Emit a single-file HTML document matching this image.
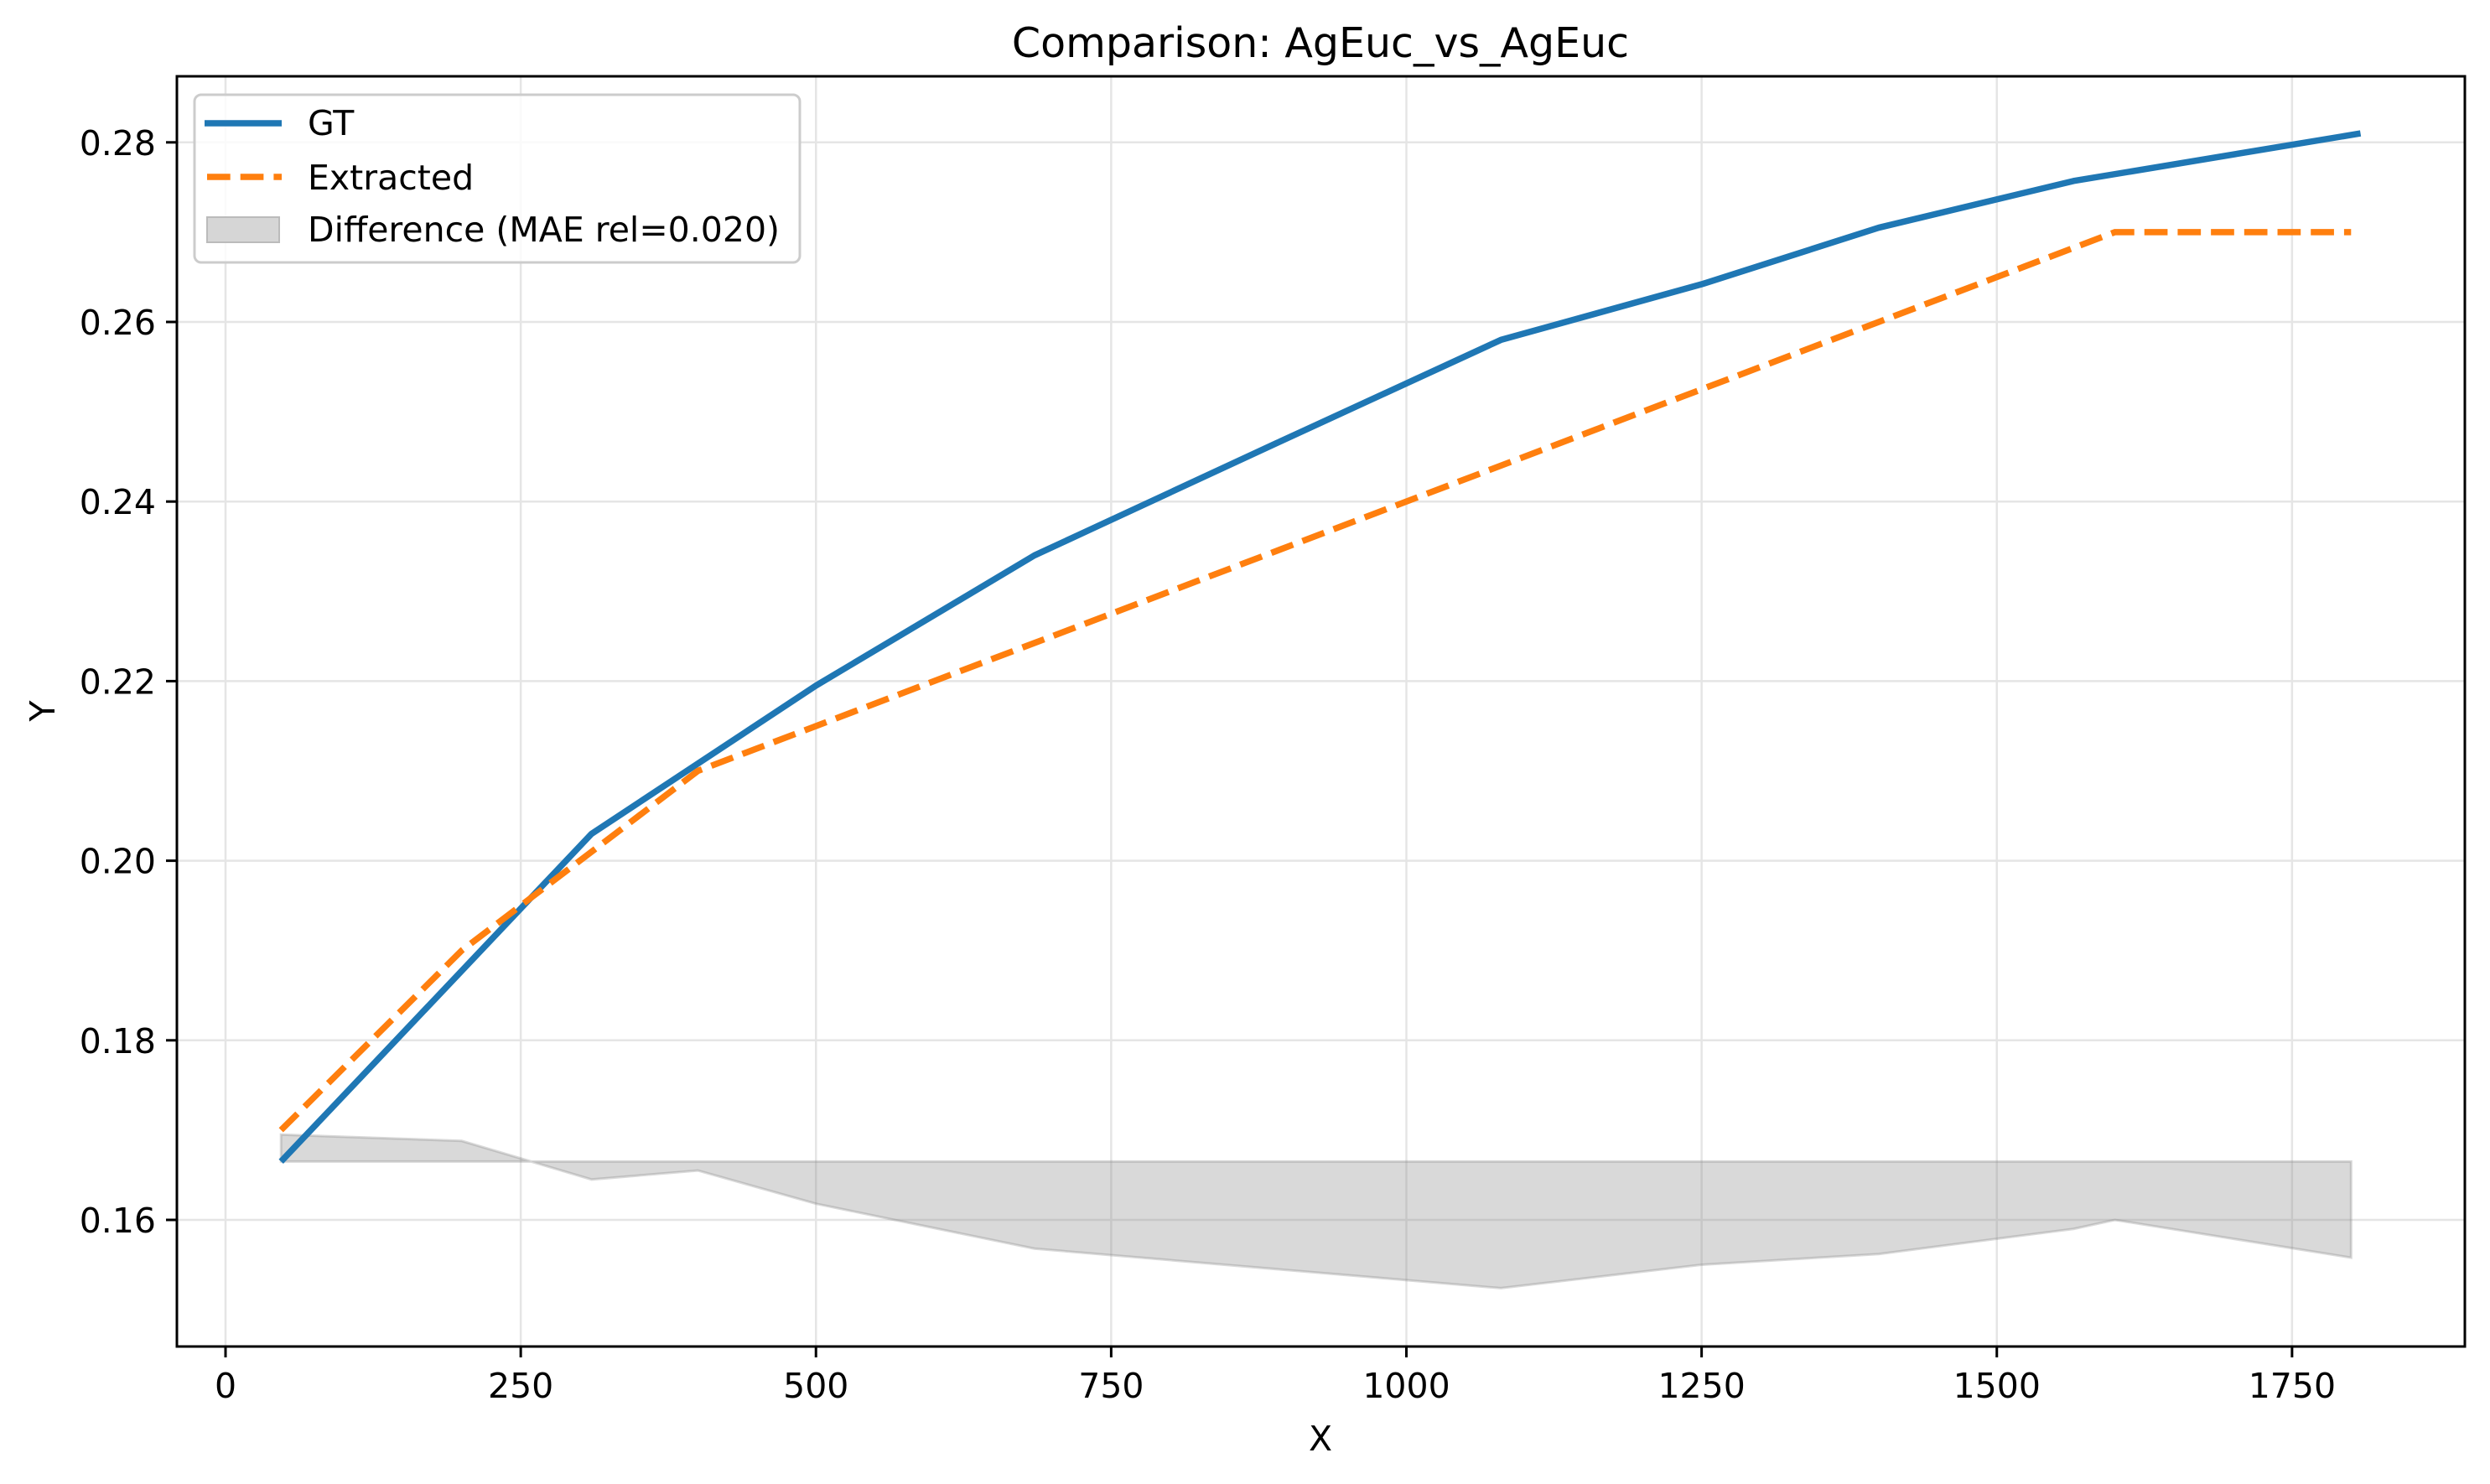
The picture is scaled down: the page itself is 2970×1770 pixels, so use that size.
<!DOCTYPE html>
<html><head><meta charset="utf-8"><style>
body{margin:0;background:#fff}
text{font-family:"DejaVu Sans","Liberation Sans",sans-serif;fill:#000}
</style></head><body>
<svg id="chart" width="2970" height="1765" viewBox="0 0 2970 1765" xmlns="http://www.w3.org/2000/svg">
<rect width="2970" height="1765" fill="#fff"/>
<g id="grid"></g>
<g id="marks"></g>
<rect x="211" y="91" width="2729" height="1515" fill="none" stroke="#000" stroke-width="3"/>
<g id="ticks"></g>
<text x="1575" y="68" font-size="49" text-anchor="middle">Comparison: AgEuc_vs_AgEuc</text>
<text x="1575" y="1730" font-size="41" text-anchor="middle">X</text>
<text x="0" y="0" font-size="41" text-anchor="middle" transform="translate(65,848) rotate(-90)">Y</text>
<g>
<rect x="232" y="113" width="722" height="200" rx="8" fill="#fff" fill-opacity="0.8" stroke="#ccc" stroke-width="3"/>
<line x1="244" y1="147" x2="336" y2="147" stroke="#1f77b4" stroke-width="7.5"/>
<text x="367" y="161" font-size="41">GT</text>
<line x1="247" y1="211" x2="336" y2="211" stroke="#ff7f0e" stroke-width="7.5" stroke-dasharray="27.7,12"/>
<text x="367" y="226" font-size="41">Extracted</text>
<rect x="247" y="259" width="86" height="30" fill="#d6d6d6" stroke="#bbb" stroke-width="2"/>
<text x="367" y="288" font-size="41">Difference (MAE rel=0.020)</text>
</g>
</svg>
<script>
const gtX=[47,310,500,685,890,1080,1250,1400,1565,1808];
const gtY=[0.1665,0.203,0.2195,0.234,0.2465,0.258,0.2642,0.2705,0.2757,0.281];
const exX=[47,200,400,500,690,1080,1250,1400,1600,1800];
const exY=[0.170,0.190,0.210,0.215,0.2245,0.244,0.2525,0.260,0.270,0.270];
const diffX=[47,200,310,400,500,685,1080,1250,1400,1565,1600,1800];
const diffY=[0.1695,0.1688,0.1645,0.1655,0.1618,0.1568,0.1524,0.155,0.1562,0.159,0.160,0.1558];
const diffBase=0.1665;
const xTicks=[0,250,500,750,1000,1250,1500,1750];
const yTicks=[0.16,0.18,0.20,0.22,0.24,0.26,0.28];
const yTickLabels=["0.16","0.18","0.20","0.22","0.24","0.26","0.28"];
const X=v=>269+(v)*1.4085;
const Y=v=>1455-(v-0.16)/0.02*214.2;
const NS="http://www.w3.org/2000/svg";
function mk(tag,attrs,parent){const e=document.createElementNS(NS,tag);for(const k in attrs)e.setAttribute(k,attrs[k]);parent.appendChild(e);return e;}
const grid=document.getElementById('grid'),ticks=document.getElementById('ticks'),marks=document.getElementById('marks');
xTicks.forEach(t=>{
 const g=mk('line',{x1:X(t),x2:X(t),y1:91,y2:1606,stroke:'#e5e5e5','stroke-width':2.5},grid);
 
 
 const tk=mk('line',{x1:X(t),x2:X(t),y1:1606,y2:1619,stroke:'#000','stroke-width':3},ticks);
 
 
 const tl=mk('text',{x:X(t),y:1667,'font-size':41,'text-anchor':'middle'},ticks);
 tl.textContent=String(t);
 
 
});
yTicks.forEach((t,i)=>{
 const g=mk('line',{x1:211,x2:2940,y1:Y(t),y2:Y(t),stroke:'#e5e5e5','stroke-width':2.5},grid);
 
 
 const tk=mk('line',{x1:198,x2:211,y1:Y(t),y2:Y(t),stroke:'#000','stroke-width':3},ticks);
 
 
 const tl=mk('text',{x:186,y:Y(t)+15,'font-size':41,'text-anchor':'end'},ticks);
 tl.textContent=yTickLabels[i];
 
 
});
let d='M'+X(diffX[0])+','+Y(diffBase);
diffX.forEach((x,i)=>{d+=' L'+X(x)+','+Y(diffY[i]);});
d+=' L'+X(diffX[diffX.length-1])+','+Y(diffBase)+' Z';
const area=mk('path',{d:d,fill:'#808080','fill-opacity':0.3,stroke:'#808080','stroke-opacity':0.3,'stroke-width':3},marks);


const gtLine=mk('polyline',{points:gtX.map((x,i)=>X(x)+','+Y(gtY[i])).join(' '),fill:'none',stroke:'#1f77b4','stroke-width':7.5,'stroke-linejoin':'round'},marks);


const exLine=mk('polyline',{points:exX.map((x,i)=>X(x)+','+Y(exY[i])).join(' '),fill:'none',stroke:'#ff7f0e','stroke-width':7.5,'stroke-dasharray':'27.7,12'},marks);


</script>
</body></html>
